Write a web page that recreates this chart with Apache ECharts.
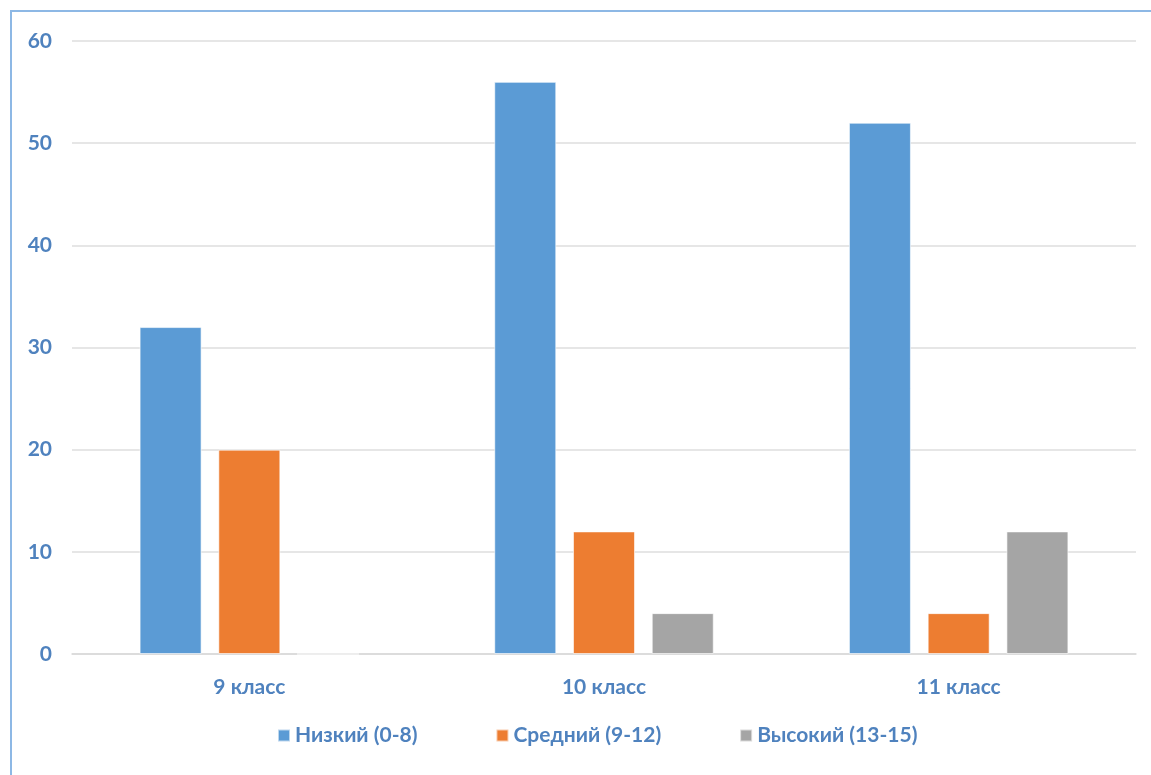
<!DOCTYPE html>
<html><head><meta charset="utf-8">
<script src="https://cdn.jsdelivr.net/npm/echarts@6/dist/echarts.min.js"></script>
<style>html,body{margin:0;padding:0;background:#fff}#c{width:1151px;height:775px}</style>
</head><body><div id="c"></div>
<script>
var categories = ['9 класс', '10 класс', '11 класс'];
var seriesNames = ['Низкий (0-8)', 'Средний (9-12)', 'Высокий (13-15)'];
var lowValues = [32, 56, 52];
var midValues = [20, 12, 4];
var highValues = [0, 4, 12];
var yTicks = [0, 10, 20, 30, 40, 50, 60];

var colors = ['#5B9BD5', '#ED7D31', '#A5A5A5'];
var txt = '#4f82be';
var font = "Lato, 'Liberation Sans', sans-serif";
var chart = echarts.init(document.getElementById('c'));
function bar(name, data, i) {
  return {
    name: name, type: 'bar', data: data, barWidth: 62, barGap: '27%',
    itemStyle: { color: colors[i], borderColor: 'rgba(255,255,255,0.6)', borderWidth: 1 }
  };
}
chart.setOption({
  animation: false,
  color: colors,
  graphic: [{
    type: 'rect', shape: { x: 11, y: 11, width: 1200, height: 800 },
    style: { fill: 'none', stroke: '#8db8e5', lineWidth: 2 }, silent: true, z: -1
  }],
  grid: { left: 72, right: 15, top: 41, bottom: 121 },
  legend: {
    bottom: 24, left: 272, itemWidth: 12, itemHeight: 12, itemGap: 78, icon: 'rect',
    textStyle: { color: txt, fontSize: 21, fontWeight: 'bold', fontFamily: font },
    data: seriesNames
  },
  xAxis: {
    type: 'category', data: categories,
    axisLine: { lineStyle: { color: '#d9d9d9', width: 1.5 } },
    axisTick: { show: false },
    axisLabel: { color: txt, fontSize: 21, fontWeight: 'bold', fontFamily: font, margin: 23 }
  },
  yAxis: {
    type: 'value', min: yTicks[0], max: yTicks[yTicks.length - 1], interval: 10,
    axisLine: { show: false }, axisTick: { show: false },
    splitLine: { lineStyle: { color: '#dedede', width: 1.5 } },
    axisLabel: { color: txt, fontSize: 21, fontWeight: 'bold', fontFamily: font, margin: 20 }
  },
  series: [bar(seriesNames[0], lowValues, 0), bar(seriesNames[1], midValues, 1), bar(seriesNames[2], highValues, 2)]
});
</script></body></html>
